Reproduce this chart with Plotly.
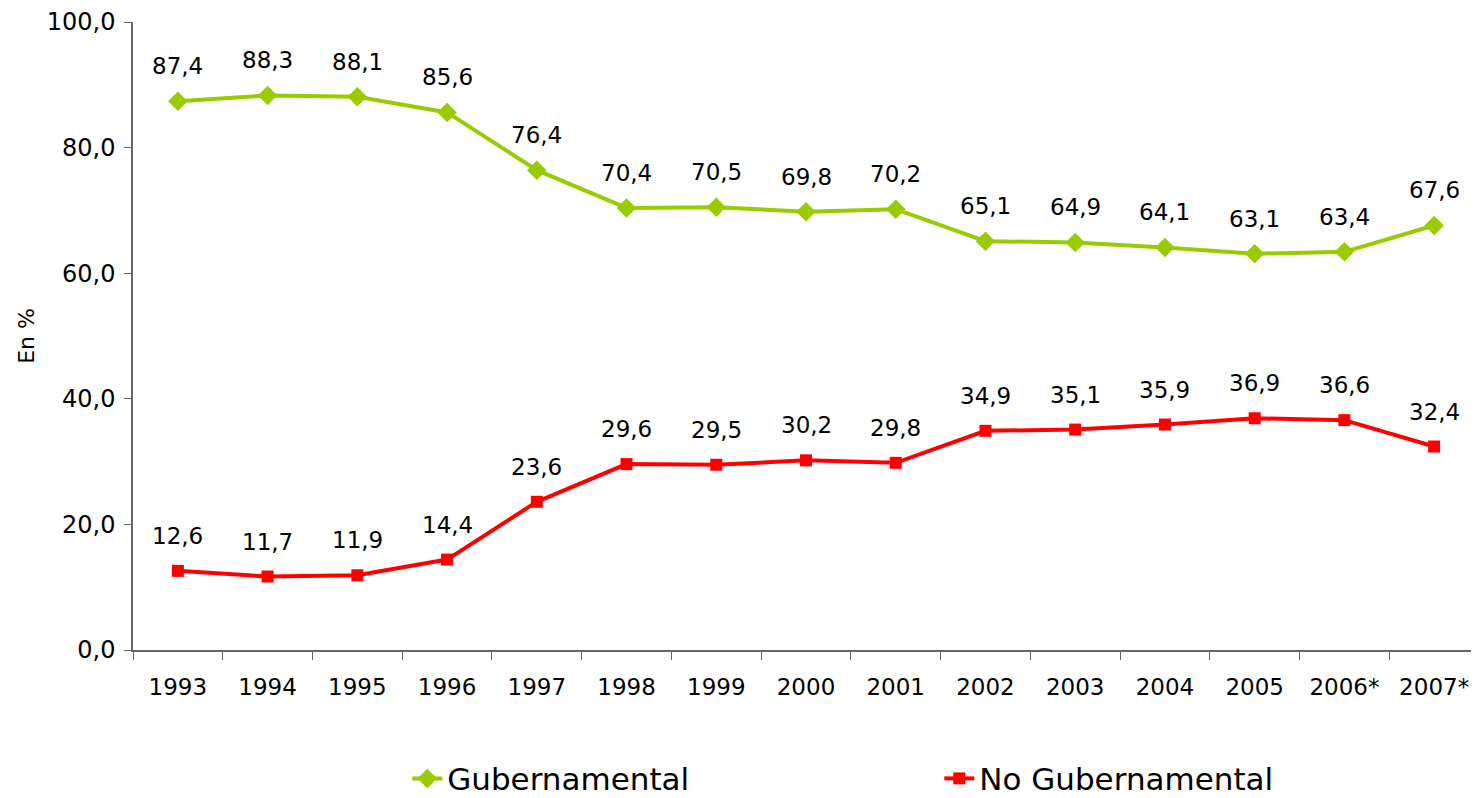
import plotly.graph_objects as go

years = ["1993", "1994", "1995", "1996", "1997", "1998", "1999", "2000",
         "2001", "2002", "2003", "2004", "2005", "2006*", "2007*"]
gubernamental = [87.4, 88.3, 88.1, 85.6, 76.4, 70.4, 70.5, 69.8, 70.2,
                 65.1, 64.9, 64.1, 63.1, 63.4, 67.6]
no_gubernamental = [12.6, 11.7, 11.9, 14.4, 23.6, 29.6, 29.5, 30.2, 29.8,
                    34.9, 35.1, 35.9, 36.9, 36.6, 32.4]
y_ticks = [0, 20, 40, 60, 80, 100]
y_tick_labels = ["0,0", "20,0", "40,0", "60,0", "80,0", "100,0"]

GREEN = "#99CC00"
RED = "#FF0000"
FONT = "DejaVu Sans"


def fmt(v):
    return f"{v:.1f}".replace(".", ",")


fig = go.Figure()
fig.add_trace(go.Scatter(
    x=years, y=gubernamental, name="Gubernamental", mode="lines+markers",
    line=dict(color=GREEN, width=4),
    marker=dict(symbol="diamond", size=15, color=GREEN),
))
fig.add_trace(go.Scatter(
    x=years, y=no_gubernamental, name="No Gubernamental", mode="lines+markers",
    line=dict(color=RED, width=4),
    marker=dict(symbol="square", size=12, color=RED),
))

annotations = []
for series in (gubernamental, no_gubernamental):
    for i, v in enumerate(series):
        annotations.append(dict(
            x=i, y=v, xref="x", yref="y", text=fmt(v), showarrow=False, yshift=35,
            font=dict(family=FONT, size=23, color="#000000"),
        ))

fig.update_layout(
    width=1471, height=790,
    margin=dict(l=125, r=0, t=14, b=148, autoexpand=False),
    paper_bgcolor="white", plot_bgcolor="white",
    font=dict(family=FONT, color="#000000"),
    annotations=annotations,
    showlegend=True,
    legend=dict(
        orientation="h", x=0.599, xanchor="center", y=-0.205, yanchor="middle",
        font=dict(family=FONT, size=31, color="#000000"),
        entrywidth=487, entrywidthmode="pixels",
        bgcolor="rgba(0,0,0,0)",
    ),
    xaxis=dict(
        type="category", range=[-0.5, 14.5], automargin=False,
        showline=True, linecolor="#666666", linewidth=1.5,
        ticks="outside", tickson="boundaries", ticklen=8, tickcolor="#666666",
        tickfont=dict(family=FONT, size=23, color="#000000"),
        ticklabelstandoff=16,
        showgrid=False, zeroline=False,
    ),
    yaxis=dict(
        range=[0, 100], tickvals=y_ticks, ticktext=y_tick_labels, automargin=False,
        showline=True, linecolor="#666666", linewidth=1.5,
        ticks="outside", ticklen=7, tickcolor="#666666",
        tickfont=dict(family=FONT, size=24, color="#000000"),
        ticklabelstandoff=4,
        title=dict(text="En %", font=dict(family=FONT, size=22, color="#000000"), standoff=6),
        showgrid=False, zeroline=False,
    ),
)

fig.write_html("out.html")
